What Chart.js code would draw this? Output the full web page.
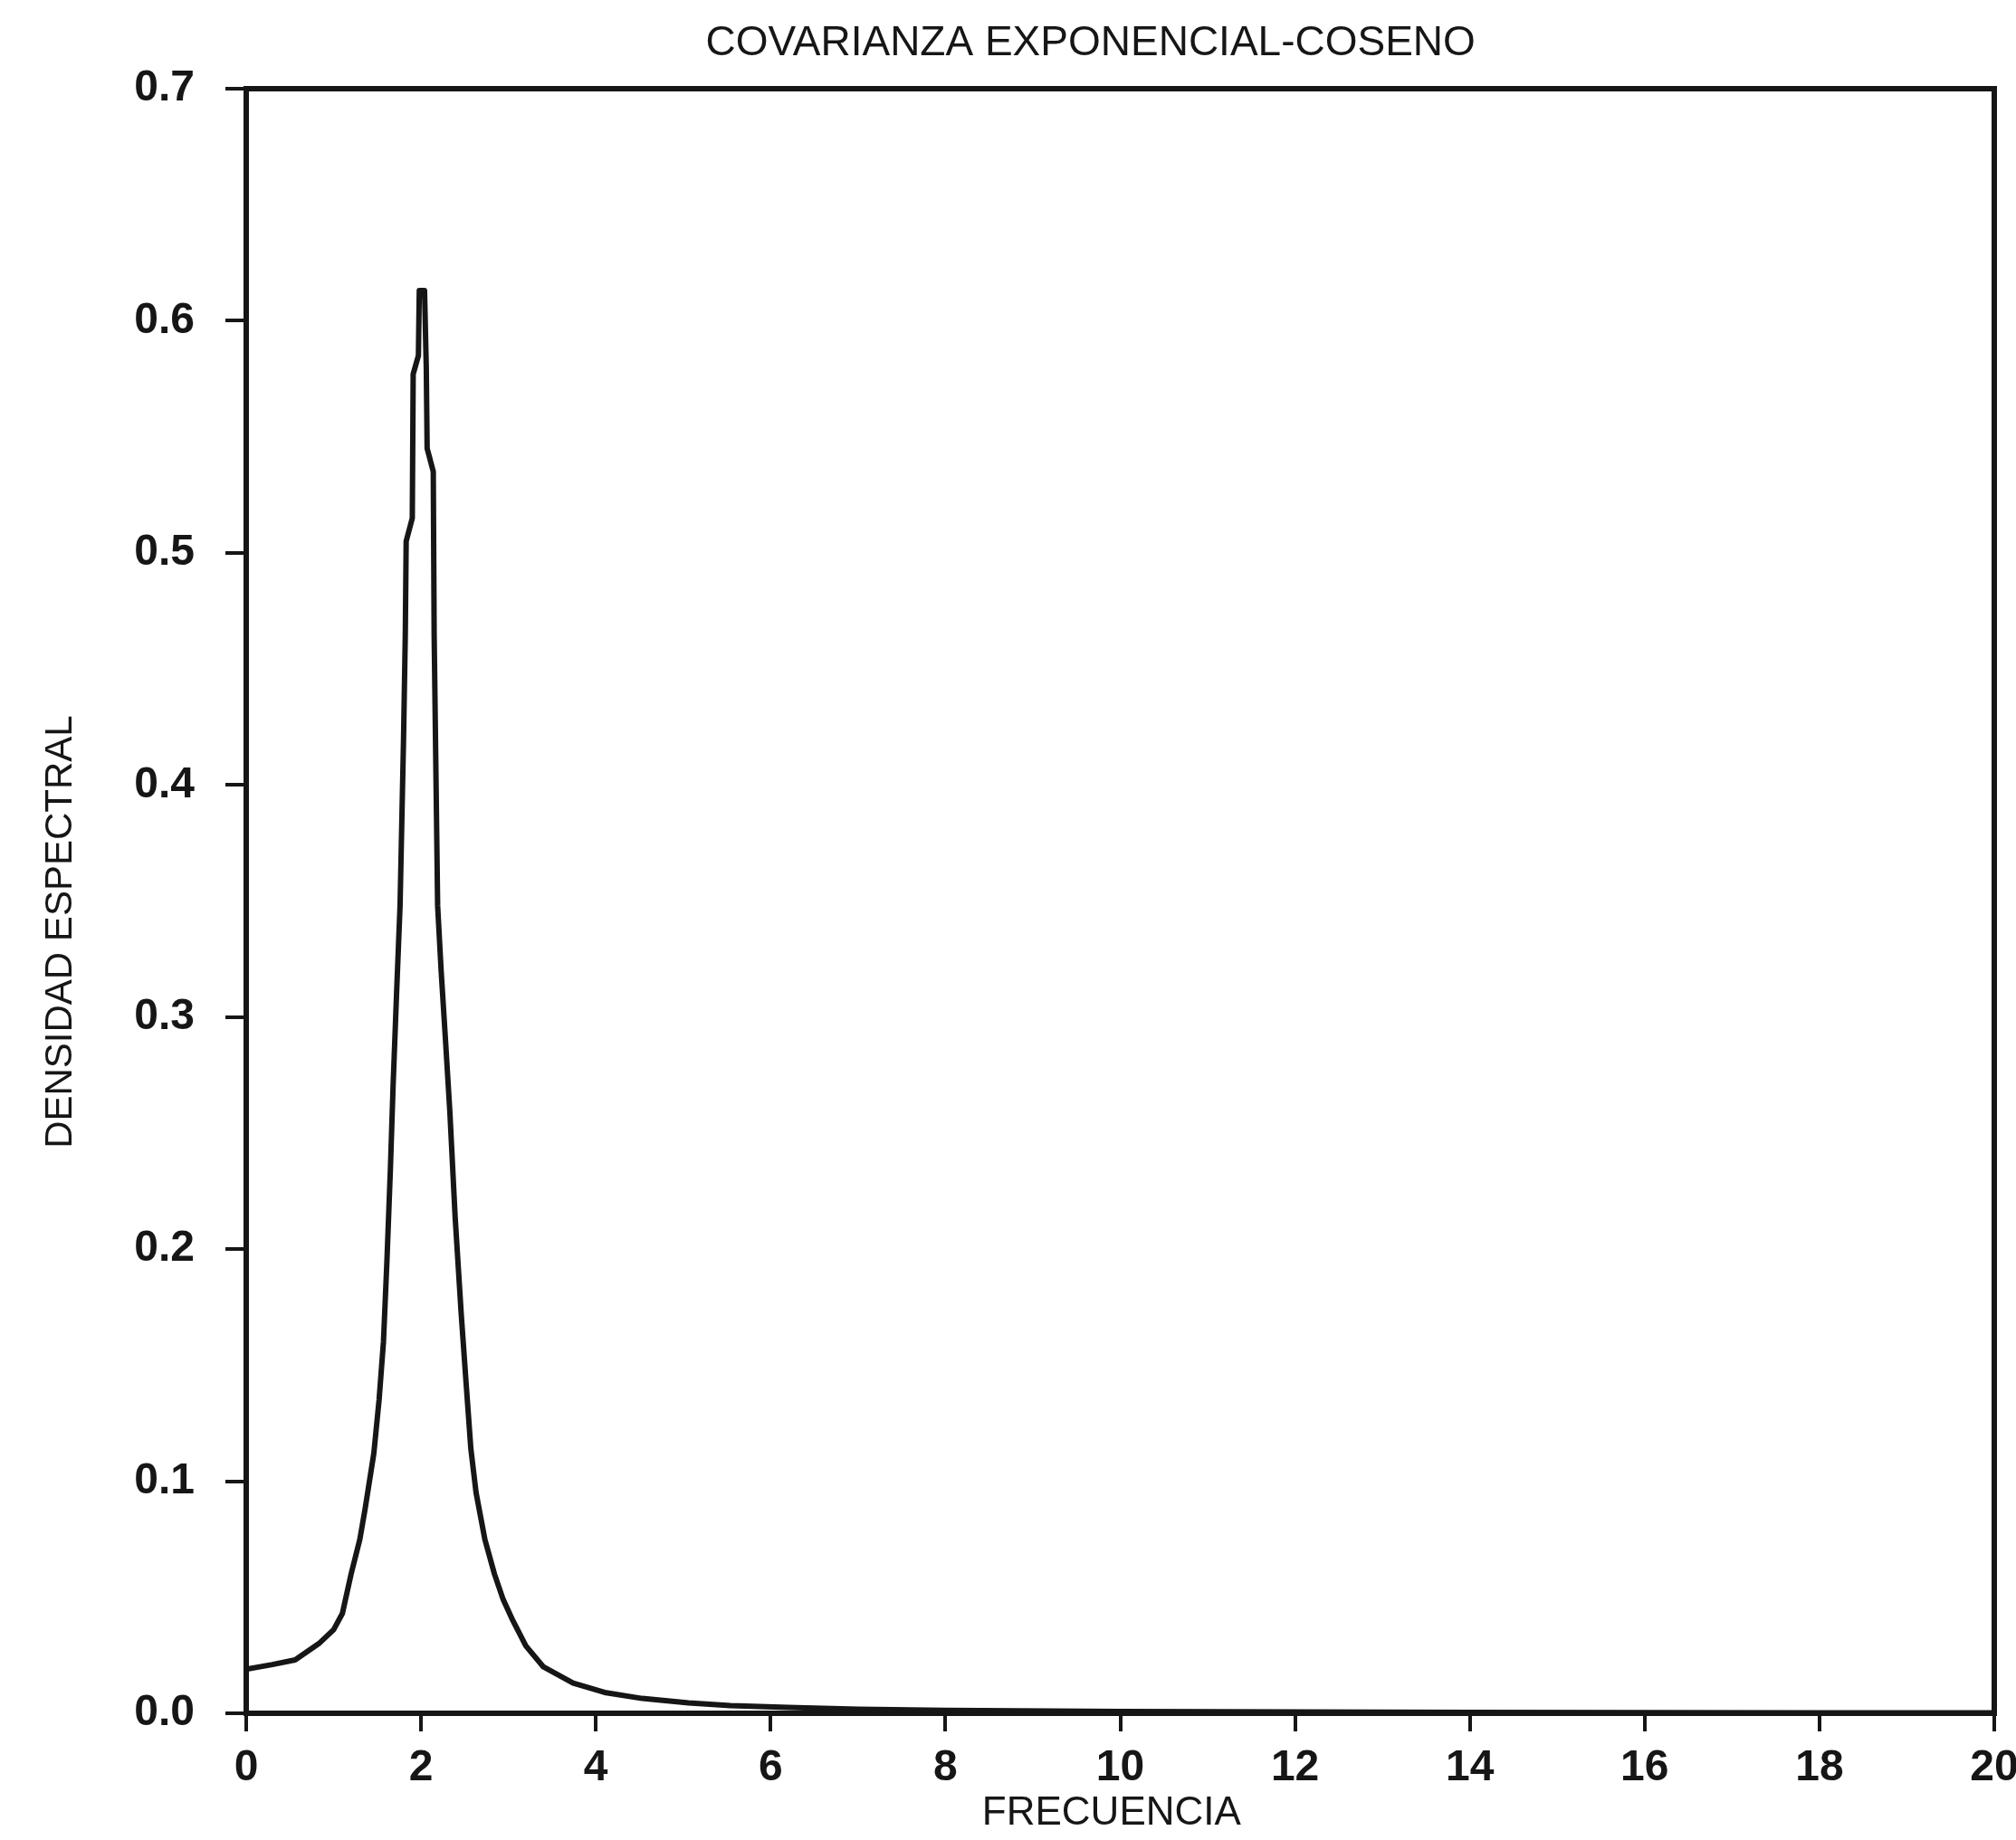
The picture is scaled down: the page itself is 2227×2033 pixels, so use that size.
<!DOCTYPE html>
<html>
<head>
<meta charset="utf-8">
<script src="https://cdn.jsdelivr.net/npm/chart.js@4/dist/chart.umd.min.js"></script>
<style>
  html, body { margin: 0; padding: 0; background: #fff; overflow: hidden; }
  #wrap { width: 2300px; height: 2033px; }
</style>
</head>
<body>
<div id="wrap"><canvas id="espectro" width="2300" height="2033"></canvas></div>
<script>
// Densidad espectral de la covarianza exponencial-coseno
const frecuencia = [0, 0.3, 0.56, 0.83, 1.0, 1.1, 1.2, 1.3, 1.36, 1.46,
    1.52, 1.57, 1.61, 1.65, 1.68, 1.72, 1.76, 1.8, 1.82, 1.83,
    1.9, 1.91, 1.97, 1.98, 2.04, 2.06, 2.07, 2.14, 2.15, 2.19,
    2.23, 2.28, 2.33, 2.39, 2.46, 2.52, 2.57, 2.63, 2.73, 2.84,
    2.94, 3.05, 3.2, 3.4, 3.74, 4.1, 4.53, 5.06, 5.54, 6.2,
    7, 8, 10, 12, 14, 16, 18, 20];
const densidad = [0.019, 0.021, 0.023, 0.030, 0.036, 0.043, 0.060, 0.075, 0.088, 0.112,
    0.135, 0.160, 0.195, 0.235, 0.270, 0.310, 0.348, 0.420, 0.465, 0.505,
    0.515, 0.577, 0.585, 0.613, 0.613, 0.580, 0.545, 0.535, 0.465, 0.348,
    0.320, 0.290, 0.259, 0.214, 0.172, 0.140, 0.114, 0.095, 0.075, 0.060,
    0.049, 0.040, 0.029, 0.020, 0.013, 0.009, 0.0064, 0.0045, 0.0033, 0.0025,
    0.0018, 0.0013, 0.0008, 0.0006, 0.0004, 0.0003, 0.0002, 0.0002];

const xTicks = [0, 2, 4, 6, 8, 10, 12, 14, 16, 18, 20];
const yTicks = [0, 0.1, 0.2, 0.3, 0.4, 0.5, 0.6, 0.7];

const titulo = 'COVARIANZA EXPONENCIAL-COSENO';
const tituloX = 'FRECUENCIA';
const tituloY = 'DENSIDAD ESPECTRAL';

const INK = '#161616';
const FONT = '"Liberation Sans", Arial, sans-serif';

Chart.defaults.font.family = FONT;
Chart.defaults.color = INK;

// frame around the plot plus the three titles
const plotterText = {
    id: 'plotterText',
    afterDraw(chart) {
        const { ctx, chartArea: a } = chart;
        const w = a.right - a.left;
        const h = a.bottom - a.top;
        ctx.save();
        ctx.strokeStyle = INK;
        ctx.lineWidth = 6;
        ctx.strokeRect(a.left, a.top, w, h);

        ctx.fillStyle = INK;
        ctx.textAlign = 'center';
        ctx.textBaseline = 'middle';
        ctx.font = '46px ' + FONT;
        ctx.fillText(titulo, a.left + w * 0.483, 48);

        ctx.font = '44px ' + FONT;
        ctx.fillText(tituloX, a.left + w * 0.495, 2004);

        ctx.translate(a.left - 205, a.top + h * 0.519);
        ctx.rotate(-Math.PI / 2);
        ctx.font = '42px ' + FONT;
        ctx.fillText(tituloY, 0, 0);
        ctx.restore();
    }
};

const tickGrid = {
    display: true,
    drawOnChartArea: false,
    drawTicks: true,
    color: INK,
    lineWidth: 4
};

new Chart(document.getElementById('espectro'), {
    type: 'scatter',
    data: {
        datasets: [{
            data: frecuencia.map((f, i) => ({ x: f, y: densidad[i] })),
            showLine: true,
            borderColor: INK,
            borderWidth: 6,
            borderJoinStyle: 'round',
            borderCapStyle: 'round',
            pointRadius: 0,
            tension: 0
        }]
    },
    options: {
        responsive: false,
        devicePixelRatio: 1,
        animation: false,
        layout: { padding: { top: 98, right: 97, bottom: 0, left: 0 } },
        plugins: {
            legend: { display: false },
            tooltip: { enabled: false }
        },
        scales: {
            x: {
                type: 'linear',
                min: 0,
                max: 20,
                afterBuildTicks: s => { s.ticks = xTicks.map(v => ({ value: v })); },
                afterFit: s => { s.height = 140; s.paddingLeft = 0; s.paddingRight = 0; },
                ticks: {
                    autoSkip: false,
                    maxRotation: 0,
                    padding: 12,
                    font: { size: 48, weight: 'bold' },
                    callback: v => String(v)
                },
                grid: { ...tickGrid, tickLength: 20 },
                border: { display: false }
            },
            y: {
                type: 'linear',
                min: 0,
                max: 0.7,
                afterBuildTicks: s => { s.ticks = yTicks.map(v => ({ value: v })); },
                afterFit: s => { s.width = 272; s.paddingTop = 0; s.paddingBottom = 0; },
                ticks: {
                    autoSkip: false,
                    padding: 34,
                    font: { size: 48, weight: 'bold' },
                    callback: v => Number(v).toFixed(1)
                },
                grid: { ...tickGrid, tickLength: 23 },
                border: { display: false }
            }
        }
    },
    plugins: [plotterText]
});
</script>
</body>
</html>
